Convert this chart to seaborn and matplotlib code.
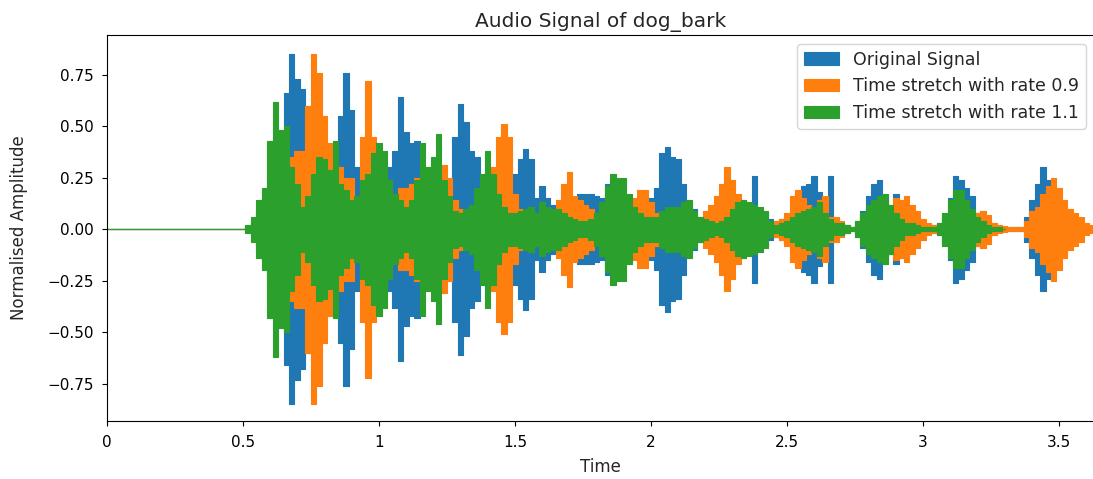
import numpy as np
import matplotlib
matplotlib.use("Agg")
import matplotlib.pyplot as plt
import seaborn as sns

t0 = 0.50
dt = 0.02
x_end = 3.63

original = [0.0, 0.01, 0.04, 0.10, 0.15, 0.25, 0.35, 0.45, 0.66, 0.85,
            0.73, 0.68, 0.60, 0.45, 0.35, 0.30, 0.30, 0.42, 0.55, 0.76,
            0.58, 0.30, 0.25, 0.20, 0.20, 0.25, 0.28, 0.30, 0.38, 0.64,
            0.47, 0.42, 0.43, 0.28, 0.20, 0.20, 0.20, 0.25, 0.22, 0.45,
            0.61, 0.52, 0.38, 0.35, 0.22, 0.20, 0.20, 0.20, 0.20, 0.22,
            0.27, 0.34, 0.39, 0.34, 0.15, 0.21, 0.15, 0.12, 0.12, 0.12,
            0.12, 0.12, 0.17, 0.17, 0.17, 0.16, 0.15, 0.22, 0.20, 0.18,
            0.15, 0.12, 0.10, 0.10, 0.12, 0.15, 0.20, 0.37, 0.40, 0.35,
            0.34, 0.22, 0.12, 0.10, 0.06, 0.06, 0.06, 0.08, 0.10, 0.10,
            0.10, 0.12, 0.12, 0.12, 0.26, 0.10, 0.08, 0.05, 0.04, 0.05,
            0.07, 0.10, 0.18, 0.21, 0.22, 0.26, 0.18, 0.15, 0.26, 0.05,
            0.03, 0.02, 0.01, 0.04, 0.09, 0.16, 0.22, 0.24, 0.16, 0.10,
            0.17, 0.06, 0.05, 0.04, 0.03, 0.02, 0.02, 0.02, 0.03, 0.07,
            0.15, 0.26, 0.24, 0.20, 0.16, 0.08, 0.05, 0.04, 0.02, 0.01,
            0.01, 0.01, 0.01, 0.01, 0.06, 0.14, 0.22, 0.30, 0.24, 0.15,
            0.12, 0.08, 0.05, 0.03, 0.02, 0.01, 0.01]

stretch_09 = [0.0, 0.01, 0.03, 0.08, 0.12, 0.20, 0.25, 0.30, 0.30, 0.35,
              0.38, 0.38, 0.60, 0.85, 0.76, 0.55, 0.42, 0.32, 0.30, 0.25,
              0.25, 0.14, 0.45, 0.72, 0.45, 0.35, 0.29, 0.24, 0.16, 0.20,
              0.20, 0.22, 0.25, 0.28, 0.25, 0.30, 0.30, 0.31, 0.25, 0.14,
              0.10, 0.08, 0.08, 0.10, 0.15, 0.20, 0.30, 0.45, 0.51, 0.45,
              0.17, 0.10, 0.07, 0.11, 0.08, 0.08, 0.06, 0.08, 0.14, 0.22,
              0.28, 0.16, 0.14, 0.12, 0.10, 0.06, 0.06, 0.08, 0.10, 0.10,
              0.10, 0.10, 0.15, 0.19, 0.19, 0.13, 0.08, 0.06, 0.06, 0.06,
              0.06, 0.06, 0.05, 0.05, 0.05, 0.09, 0.12, 0.16, 0.22, 0.30,
              0.24, 0.17, 0.14, 0.10, 0.08, 0.06, 0.05, 0.04, 0.04, 0.05,
              0.08, 0.16, 0.19, 0.15, 0.12, 0.10, 0.14, 0.16, 0.06, 0.06,
              0.04, 0.02, 0.01, 0.03, 0.06, 0.10, 0.10, 0.10, 0.12, 0.12,
              0.15, 0.14, 0.16, 0.12, 0.09, 0.05, 0.03, 0.02, 0.02, 0.03,
              0.04, 0.05, 0.06, 0.07, 0.08, 0.08, 0.09, 0.07, 0.03, 0.02,
              0.015, 0.01, 0.01, 0.01, 0.04, 0.09, 0.11, 0.17, 0.21, 0.25,
              0.20, 0.14, 0.10, 0.08, 0.06, 0.03, 0.02]

stretch_11 = [0.0, 0.02, 0.06, 0.14, 0.20, 0.43, 0.62, 0.48, 0.50, 0.30,
              0.22, 0.11, 0.16, 0.27, 0.35, 0.34, 0.29, 0.43, 0.22, 0.19,
              0.14, 0.16, 0.24, 0.27, 0.37, 0.42, 0.38, 0.24, 0.17, 0.14,
              0.11, 0.14, 0.24, 0.42, 0.30, 0.35, 0.46, 0.24, 0.16, 0.09,
              0.08, 0.10, 0.12, 0.20, 0.27, 0.38, 0.27, 0.17, 0.11, 0.08,
              0.08, 0.09, 0.10, 0.11, 0.08, 0.13, 0.11, 0.10, 0.10, 0.08,
              0.06, 0.05, 0.04, 0.04, 0.05, 0.08, 0.13, 0.21, 0.27, 0.25,
              0.25, 0.17, 0.11, 0.08, 0.06, 0.06, 0.06, 0.09, 0.11, 0.11,
              0.11, 0.13, 0.14, 0.09, 0.06, 0.05, 0.04, 0.03, 0.04, 0.06,
              0.10, 0.13, 0.14, 0.13, 0.12, 0.11, 0.09, 0.04, 0.02, 0.03,
              0.04, 0.06, 0.08, 0.09, 0.10, 0.11, 0.13, 0.08, 0.05, 0.03,
              0.03, 0.02, 0.01, 0.04, 0.08, 0.12, 0.14, 0.16, 0.17, 0.12,
              0.08, 0.05, 0.03, 0.03, 0.02, 0.01, 0.01, 0.01, 0.03, 0.08,
              0.14, 0.19, 0.19, 0.14, 0.10, 0.06, 0.04, 0.02, 0.01, 0.01,
              0.0]

series_labels = ["Original Signal", "Time stretch with rate 0.9", "Time stretch with rate 1.1"]
x_ticks = [0, 0.5, 1, 1.5, 2, 2.5, 3, 3.5]
x_ticklabels = ["0", "0.5", "1", "1.5", "2", "2.5", "3", "3.5"]
y_ticks = [-0.75, -0.5, -0.25, 0.0, 0.25, 0.5, 0.75]

# ---- style ----
sns.set_style("ticks")
palette = sns.color_palette("tab10", 3)
plt.rcParams["font.family"] = ["DejaVu Sans"]

W, H, DPI = 1093, 479, 100
fig = plt.figure(figsize=(W / DPI, H / DPI), dpi=DPI)
left_px, right_px, top_px, bottom_px = 106.7, 1094.5, 35, 421
ax = fig.add_axes([left_px / W, 1 - bottom_px / H,
                   (right_px - left_px) / W, (bottom_px - top_px) / H])

for amps, lab, col in zip([original, stretch_09, stretch_11], series_labels, palette):
    a = np.concatenate([[0.0], np.asarray(amps, dtype=float)])
    t = np.concatenate([[0.0], t0 + dt * np.arange(len(amps))])
    ax.fill_between(t, a, -a, step="mid", facecolor=col, edgecolor=col,
                    linewidth=0.8, label=lab)

ax.set_xlim(0, x_end)
ax.set_ylim(-0.931, 0.943)
ax.set_xticks(x_ticks)
ax.set_xticklabels(x_ticklabels)
ax.set_yticks(y_ticks)
ax.tick_params(labelsize=11, length=3.5, width=0.8, colors="black")
ax.tick_params(axis="x", pad=6.5)
ax.tick_params(axis="y", pad=5.5)
for sp in ax.spines.values():
    sp.set_color("black")
    sp.set_linewidth(0.8)
ax.set_xlabel("Time", fontsize=12, labelpad=6)
ax.set_ylabel("Normalised Amplitude", fontsize=12, labelpad=14)
ax.set_title("Audio Signal of dog_bark", fontsize=14.5)
ax.legend(loc="upper right", fontsize=12.5)

fig.savefig("out.png", dpi=DPI)
